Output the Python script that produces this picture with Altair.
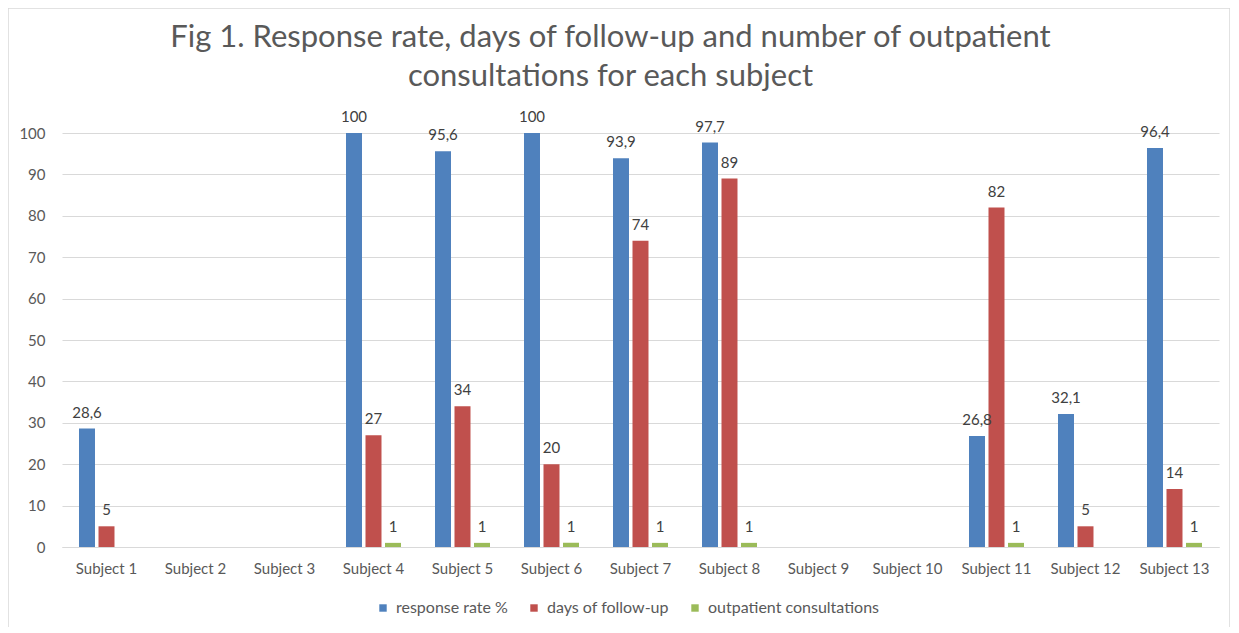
import altair as alt
import pandas as pd

subjects = [f"Subject {i}" for i in range(1, 14)]
response_rate = [28.6, None, None, 100, 95.6, 100, 93.9, 97.7, None, None, 26.8, 32.1, 96.4]
days_follow_up = [5, None, None, 27, 34, 20, 74, 89, None, None, 82, 5, 14]
outpatient = [None, None, None, 1, 1, 1, 1, 1, None, None, 1, None, 1]
series_names = ["response rate %", "days of follow-up", "outpatient consultations"]
colors = ["#4F81BD", "#C0504D", "#9BBB59"]
y_ticks = list(range(0, 101, 10))

rows = []
for s, vals in zip(series_names, [response_rate, days_follow_up, outpatient]):
    for subj, v in zip(subjects, vals):
        if v is not None:
            rows.append({"subject": subj, "series": s, "value": v,
                         "label": f"{v:g}".replace(".", ",")})
df = pd.DataFrame(rows)

FONT = "Lato"
GRAY = "#595959"

x_enc = alt.X("subject:N", scale=alt.Scale(domain=subjects, paddingInner=0.382, paddingOuter=0.191),
              axis=alt.Axis(title=None, labelAngle=0, ticks=False, domainColor="#D9D9D9",
                            labelPadding=14, labelFont=FONT, labelFontSize=15, labelColor=GRAY))
xo_enc = alt.XOffset("series:N", scale=alt.Scale(domain=series_names, paddingInner=0.18, paddingOuter=0))
y_enc = alt.Y("value:Q", scale=alt.Scale(domain=[0, 100], nice=False),
              axis=alt.Axis(title=None, values=y_ticks, grid=True, gridColor="#D9D9D9", domain=False,
                            ticks=False, labelPadding=17, labelFont=FONT, labelFontSize=15,
                            labelColor=GRAY))

bars = alt.Chart(df).mark_bar().encode(
    x=x_enc, xOffset=xo_enc, y=y_enc,
    color=alt.Color("series:N", scale=alt.Scale(domain=series_names, range=colors),
                    legend=alt.Legend(title=None, orient="none", direction="horizontal",
                                      legendX=313, legendY=467,
                                      symbolType="square", symbolSize=55, symbolStrokeWidth=0,
                                      symbolOffset=0, labelOffset=5, labelLimit=400,
                                      labelFont=FONT, labelFontSize=16, labelColor=GRAY,
                                      columnPadding=18)),
)

labels = alt.Chart(df).mark_text(baseline="bottom", dy=-8, font=FONT, fontSize=15, color="#404040").encode(
    x=alt.X("subject:N", scale=alt.Scale(domain=subjects)),
    xOffset=alt.XOffset("series:N", scale=alt.Scale(domain=series_names)),
    y=alt.Y("value:Q"),
    text="label:N",
)

frame_df = pd.DataFrame({"k": [0]})
frame = alt.Chart(frame_df).mark_rect(fill=None, stroke="#D9D9D9", strokeWidth=1.5).encode(
    x=alt.value(-54), x2=alt.value(1168), y=alt.value(-125), y2=alt.value(520)
)

chart = alt.layer(frame, bars, labels).properties(
    width=1157, height=414,
    title=alt.TitleParams(
        ["Fig 1. Response rate, days of follow-up and number of outpatient",
         "consultations for each subject"],
        fontSize=31, font=FONT, fontWeight="normal", color=GRAY, anchor="middle",
        frame="group", lineHeight=39, offset=-86, dx=-30),
    autosize=alt.AutoSizeParams(type="none"),
    padding={"left": 54, "top": 125, "right": 11, "bottom": 80},
).configure_view(strokeWidth=0)

chart.save("out.html", embed_options={"renderer": "svg", "actions": False})
